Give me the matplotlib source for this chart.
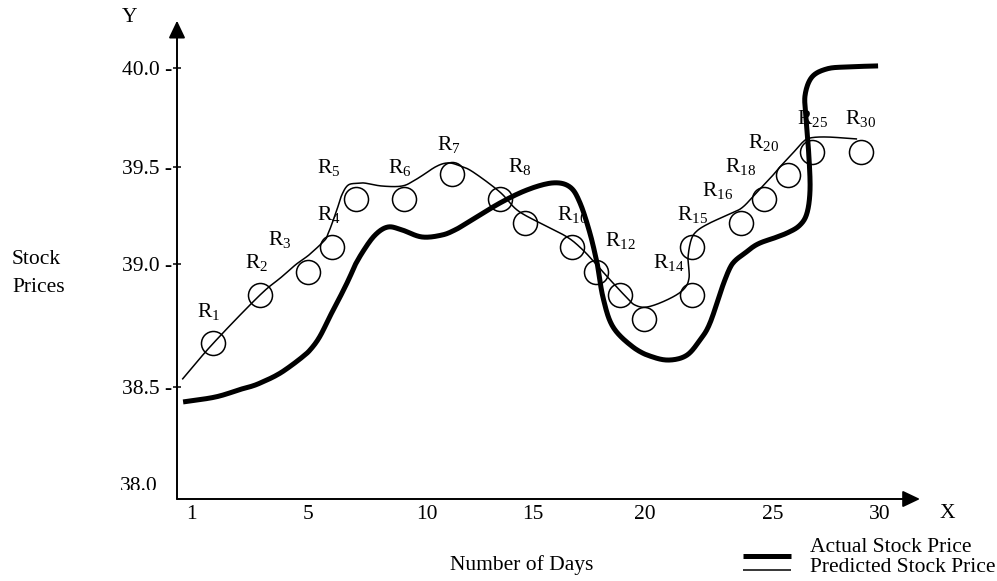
import numpy as np
import matplotlib
matplotlib.use("Agg")
import matplotlib.pyplot as plt
from matplotlib.lines import Line2D
from matplotlib.transforms import Bbox, TransformedBbox, ScaledTranslation

plt.rcParams["font.family"] = ["Liberation Serif", "DejaVu Serif"]
plt.rcParams["mathtext.fontset"] = "custom"
plt.rcParams["mathtext.rm"] = "Liberation Serif"
plt.rcParams["mathtext.it"] = "Liberation Serif:italic"
plt.rcParams["mathtext.bf"] = "Liberation Serif:bold"

# ---------------------------------------------------------------- data
day_ticks = [1, 5, 10, 15, 20, 25, 30]
price_ticks = [38.0, 38.5, 39.0, 39.5, 40.0]
price_tick_labels = ["38.0", "38.5 -", "39.0 -", "39.5 -", "40.0 -"]

actual_day = [0.73, 1.85, 2.74, 3.36, 4.21, 5.29, 5.97, 6.64, 7.27, 7.82,
              8.36, 8.95, 9.79, 10.71, 11.32, 11.89, 13.44, 14.72,
              15.89, 16.65, 17.10, 17.54, 17.86, 18.13, 18.57, 19.46, 20.31,
              20.98, 21.64, 22.15, 22.54, 23.09, 23.44, 23.91, 24.49, 25.65,
              26.26, 26.59, 26.73, 26.68, 26.54, 26.50, 26.82, 27.52, 28.46,
              29.91]
actual_price = [38.423, 38.449, 38.490, 38.516, 38.569, 38.675, 38.797,
                38.924, 39.058, 39.150, 39.191, 39.176, 39.140, 39.150,
                39.176, 39.212, 39.314, 39.381, 39.417, 39.396,
                39.314, 39.160, 39.007, 38.863, 38.745, 38.663, 38.622,
                38.610, 38.630, 38.692, 38.761, 38.928, 39.007, 39.058,
                39.109, 39.160, 39.201, 39.263, 39.381, 39.549, 39.751,
                39.862, 39.953, 39.994, 40.004, 40.009]

predicted_day = [0.70, 1.76, 3.36, 4.21, 5.58, 5.85, 6.21, 6.42, 6.69, 7.11,
                 7.39, 8.11, 8.95, 9.50, 10.38, 10.99, 11.56, 12.17, 13.44,
                 14.25, 15.31, 16.52, 17.23, 17.86, 18.57, 19.20, 19.55,
                 20.08, 20.86, 21.48, 21.72, 21.68, 21.80, 22.03, 22.54,
                 23.40, 23.83, 24.38, 25.19, 25.93, 26.40, 26.73, 27.52,
                 28.93]
predicted_price = [38.531, 38.678, 38.875, 38.960, 39.108, 39.159, 39.278,
                   39.355, 39.406, 39.415, 39.416, 39.401, 39.401, 39.432,
                   39.498, 39.519, 39.504, 39.473, 39.370, 39.278, 39.212,
                   39.140, 39.073, 38.997, 38.924, 38.863, 38.834, 38.826,
                   38.855, 38.895, 38.944, 39.032, 39.124, 39.171, 39.212,
                   39.263, 39.294, 39.370, 39.482, 39.569, 39.625, 39.645,
                   39.650, 39.640]

sample_day = [1.75, 3.35, 5.0, 6.0, 7.0, 9.05, 11.2, 13.45, 14.6, 16.75,
              17.8, 18.9, 19.95, 21.85, 21.85, 23.75, 24.65, 25.7, 26.8, 29.1]
sample_price = [38.678, 38.875, 38.97, 39.09, 39.333, 39.333, 39.463,
                39.333, 39.21, 39.087, 38.97, 38.875, 38.776, 38.875,
                39.087, 39.21, 39.333, 39.458, 39.576, 39.576]

region_labels = ["1", "2", "3", "4", "5", "6", "7", "8", "10", "12", "14",
                 "15", "16", "18", "20", "25", "30"]
region_day = [1.19, 2.85, 3.64, 5.37, 5.37, 8.37, 10.46, 13.83, 16.06,
              18.21, 20.32, 21.24, 22.21, 23.13, 24.04, 26.11, 28.36]
region_price = [38.786, 38.984, 39.099, 39.227, 39.466, 39.466, 39.584,
                39.473, 39.227, 39.094, 38.985, 39.227, 39.350, 39.473,
                39.594, 39.716, 39.716]

# ---------------------------------------------------------------- layout
W, H = 997, 581
FS = 15.5
# canvas positions (pixels) of the labelled values: the axes are hand-spaced
DAY_AXIS_POS = [191, 308, 427, 533, 645, 773, 880]
PRICE_AXIS_POS = [-484, -387, -264.3, -166.7, -67.7]
AX_LEFT, AX_RIGHT, AX_BOTTOM, AX_TOP = 177, 920, 499, 20.7


def piecewise_scale(values, positions):
    kv = np.asarray(values, float)
    kp = np.asarray(positions, float)

    def _map(v, a, b):
        v = np.asarray(v, float)
        out = np.interp(v, a, b)
        lo_slope = (b[1] - b[0]) / (a[1] - a[0])
        hi_slope = (b[-1] - b[-2]) / (a[-1] - a[-2])
        out = np.where(v < a[0], b[0] + (v - a[0]) * lo_slope, out)
        out = np.where(v > a[-1], b[-1] + (v - a[-1]) * hi_slope, out)
        return out

    return (lambda v: _map(v, kv, kp)), (lambda p: _map(p, kp, kv))


def catmull_rom(xs, ys, n=16):
    p = np.column_stack([xs, ys]).astype(float)
    p = np.vstack([2 * p[0] - p[1], p, 2 * p[-1] - p[-2]])
    out = []
    t = np.linspace(0, 1, n, endpoint=False)[:, None]
    for i in range(1, len(p) - 2):
        p0, p1, p2, p3 = p[i - 1], p[i], p[i + 1], p[i + 2]
        seg = 0.5 * ((2 * p1) + (-p0 + p2) * t
                     + (2 * p0 - 5 * p1 + 4 * p2 - p3) * t ** 2
                     + (-p0 + 3 * p1 - 3 * p2 + p3) * t ** 3)
        out.append(seg)
    out.append(p[-2][None, :])
    out = np.vstack(out)
    return out[:, 0], out[:, 1]


fig = plt.figure(figsize=(W / 100, H / 100), dpi=100)
fig.patch.set_facecolor("white")
ax = fig.add_axes([AX_LEFT / W, 1 - AX_BOTTOM / H,
                   (AX_RIGHT - AX_LEFT) / W, (AX_BOTTOM - AX_TOP) / H])
ax.set_facecolor("none")

xf, xi = piecewise_scale(day_ticks, DAY_AXIS_POS)
yf, yi = piecewise_scale(price_ticks, PRICE_AXIS_POS)
ax.set_xscale("function", functions=(xf, xi))
ax.set_yscale("function", functions=(yf, yi))
ax.set_xlim(float(xi(AX_LEFT)), float(xi(AX_RIGHT)))
ax.set_ylim(float(yi(-AX_BOTTOM)), float(yi(-AX_TOP)))

for s in ax.spines.values():
    s.set_visible(False)

# axis arrows
arrow = dict(arrowstyle="-|>,head_length=1.05,head_width=0.5", lw=1.4,
             color="black", shrinkA=0, shrinkB=0, mutation_scale=10)
ax.annotate("", xy=(1, 0), xytext=(0, 0), xycoords="axes fraction",
            textcoords="axes fraction", arrowprops=arrow, zorder=5)
ax.annotate("", xy=(0, 1), xytext=(0, 0), xycoords="axes fraction",
            textcoords="axes fraction", arrowprops=arrow, zorder=5)

# ticks
ax.set_xticks(day_ticks, labels=[str(d) for d in day_ticks])
ax.tick_params(axis="x", length=0, pad=4.6, labelsize=FS)
ax.set_yticks(price_ticks[1:], labels=price_tick_labels[1:])
ax.tick_params(axis="y", direction="inout", length=6, width=1.1, pad=0.6,
               labelsize=FS)
ax.xaxis.set_minor_locator(matplotlib.ticker.NullLocator())
ax.yaxis.set_minor_locator(matplotlib.ticker.NullLocator())

# lowest price label, cut off just above the day axis
low = ax.text(0, price_ticks[0], price_tick_labels[0], fontsize=FS,
              ha="right", va="center_baseline",
              transform=ax.get_yaxis_transform()
              + ScaledTranslation(-19 / 100, 0, fig.dpi_scale_trans))
low.set_clip_box(TransformedBbox(Bbox([[0, 1 - 490 / H], [1, 1]]),
                                 fig.transFigure))
low.set_clip_on(True)

# curves
ax_x, ax_y = catmull_rom(actual_day, actual_price)
ax.plot(ax_x, ax_y, color="black", lw=3.6, solid_capstyle="butt",
        solid_joinstyle="round", zorder=3, clip_on=False)
pr_x, pr_y = catmull_rom(predicted_day, predicted_price)
ax.plot(pr_x, pr_y, color="black", lw=1.1, solid_capstyle="butt",
        solid_joinstyle="round", zorder=3, clip_on=False)
ax.plot(sample_day, sample_price, linestyle="none", marker="o",
        markersize=17.3, markerfacecolor="none", markeredgecolor="black",
        markeredgewidth=1.1, zorder=4, clip_on=False)

for lab, d, p in zip(region_labels, region_day, region_price):
    ax.text(d, p, r"$\mathrm{R_{%s}}$" % lab, fontsize=FS, ha="left",
            va="baseline", zorder=1)

# free text
def fxy(px, py):
    return px / W, 1 - py / H

fig.text(*fxy(130, 18), "Y", fontsize=FS, ha="center", va="center")
fig.text(*fxy(947, 513), "X", fontsize=FS, ha="center", va="center")
fig.text(*fxy(12, 259.5), "Stock", fontsize=FS, ha="left", va="center")
fig.text(*fxy(12, 287.5), "Prices", fontsize=FS, ha="left", va="center")
fig.text(*fxy(522, 565), "Number of Days", fontsize=FS, ha="center",
         va="center")

# key
x0, y0 = fxy(743, 556)
x1, _ = fxy(791, 556)
fig.add_artist(Line2D([x0, x1], [y0, y0], color="black", lw=3.6,
                      solid_capstyle="butt", transform=fig.transFigure))
_, y1 = fxy(743, 570)
fig.add_artist(Line2D([x0, x1], [y1, y1], color="black", lw=1.1,
                      solid_capstyle="butt", transform=fig.transFigure))
fig.text(*fxy(810, 547), "Actual Stock Price", fontsize=FS, ha="left",
         va="center")
fig.text(*fxy(810, 568), "Predicted Stock Price", fontsize=FS, ha="left",
         va="center")

fig.savefig("out.png", dpi=100, facecolor="white")
